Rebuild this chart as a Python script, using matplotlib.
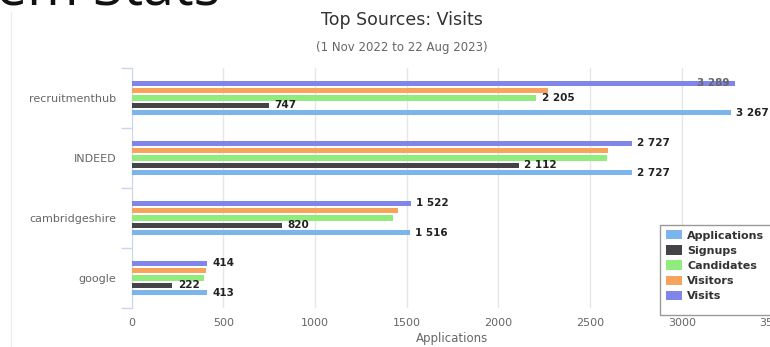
import matplotlib
matplotlib.use("Agg")
import matplotlib.pyplot as plt
from matplotlib.patches import Patch, Rectangle
import numpy as np

categories = ["recruitmenthub", "INDEED", "cambridgeshire", "google"]
series_names = ["Applications", "Signups", "Candidates", "Visitors", "Visits"]
applications = [3267, 2727, 1516, 413]
signups = [747, 2112, 820, 222]
candidates = [2205, 2590, 1425, 395]
visitors = [2270, 2600, 1455, 404]
visits = [3289, 2727, 1522, 414]
colors = ["#7cb5ec", "#434348", "#90ed7d", "#f7a35c", "#8085e9"]
# which labels are shown (Highcharts hides overlapping ones)
shown = {
    "Applications": [True, True, True, True],
    "Signups": [True, True, True, True],
    "Candidates": [True, False, False, False],
    "Visitors": [False, False, False, False],
    "Visits": [True, True, True, True],
}
xticks = [0, 500, 1000, 1500, 2000, 2500, 3000, 3500]

def fmt(v):
    return f"{v:,}".replace(",", " ")

W, H = 770, 347
fig = plt.figure(figsize=(W / 100, H / 100), dpi=100)
fig.patch.set_facecolor("white")

ax = fig.add_axes([131.5 / W, 1 - 308 / H, 642 / W, 240 / H])
ax.set_xlim(0, 3500)
ax.set_ylim(3.5, -0.5)

data = [applications, signups, candidates, visitors, visits]
step = 0.122
offsets = [2 * step, 1 * step, 0, -1 * step, -2 * step]
y = np.arange(len(categories))
for name, vals, col, off in zip(series_names, data, colors, offsets):
    ax.barh(y + off, vals, height=0.085, color=col, zorder=3)
    for i, v in enumerate(vals):
        if shown[name][i]:
            if name == "Visits" and v > 3200:
                ax.annotate(fmt(v), (v, i + off), xytext=(-4, 0), textcoords="offset points",
                            ha="right", va="center", fontsize=7.5, fontweight="bold",
                            color="#666666", zorder=4)
            else:
                ax.annotate(fmt(v), (v, i + off), xytext=(4, 0), textcoords="offset points",
                            ha="left", va="center", fontsize=7.5, fontweight="bold",
                            color="#222222", zorder=4)

ax.set_xticks(xticks)
ax.set_xticklabels([str(t) for t in xticks], fontsize=8, color="#666666")
ax.tick_params(axis="x", length=0, pad=7)
ax.grid(axis="x", color="#e6e6e6", linewidth=1, zorder=0)

ax.set_yticks(y)
ax.set_yticklabels(categories, fontsize=8, color="#666666")
ax.tick_params(axis="y", which="major", length=0, pad=11)
ax.set_yticks([-0.5, 0.5, 1.5, 2.5, 3.5], minor=True)
ax.tick_params(axis="y", which="minor", length=8, color="#ccd6eb", width=1)

for s in ["top", "right", "bottom"]:
    ax.spines[s].set_visible(False)
ax.spines["left"].set_color("#ccd6eb")

ax.set_xlabel("Applications", fontsize=8.5, color="#666666", labelpad=3)

fig.text(402 / W, 1 - 20 / H, "Top Sources: Visits", ha="center", va="center",
         fontsize=12.5, color="#333333")
fig.text(402 / W, 1 - 47 / H, "(1 Nov 2022 to 22 Aug 2023)", ha="center", va="center",
         fontsize=8.5, color="#666666")

fig.text(-4 / W, 1 - 6 / H, "em Stats", ha="left", va="baseline",
         fontsize=40, color="#111111", family="Open Sans")

# panel border line
fig.add_artist(plt.Line2D([11 / W, 11 / W], [0, 1 - 12 / H], color="#eeeeee", lw=1))

# legend frame (extends past the right edge as in the reference)
fig.add_artist(Rectangle((660 / W, 1 - 315 / H), 130 / W, 90 / H, transform=fig.transFigure,
                         facecolor="white", edgecolor="#999999", linewidth=1, zorder=5))
handles = [Patch(facecolor=c, edgecolor="none") for c in colors]
leg = fig.legend(handles, series_names, loc="upper left",
                 bbox_to_anchor=(664 / W, 1 - 228 / H), fontsize=8,
                 frameon=False, handlelength=1.4, handleheight=0.9,
                 handletextpad=0.5, labelspacing=0.42, borderpad=0.2, borderaxespad=0)
leg.set_zorder(6)
for t in leg.get_texts():
    t.set_color("#333333")
    t.set_fontweight("bold")

fig.savefig("out.png", dpi=100, facecolor="white")
